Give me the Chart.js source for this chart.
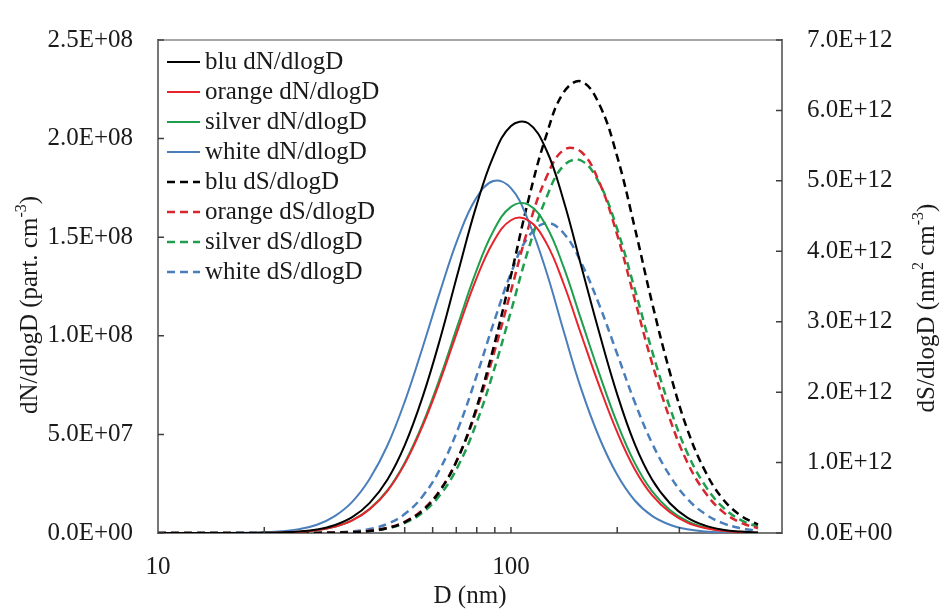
<!DOCTYPE html>
<html>
<head>
<meta charset="utf-8">
<script src="https://cdn.jsdelivr.net/npm/chart.js@4"></script>
<style>
  html, body { margin: 0; padding: 0; background: #fff; }
  #wrap { width: 941px; height: 609px; }
</style>
</head>
<body>
<div id="wrap"><canvas id="psd"></canvas></div>
<script>
// particle diameter, nm (log-spaced)
const diameter = [10, 11.2, 12.6, 14.1, 15.8, 17.8, 20.0, 22.4, 25.1, 28.2, 31.6, 35.5, 39.8, 44.7, 50.1, 56.2, 63.1, 70.8, 79.4, 89.1,
  100, 112, 126, 141, 158, 178, 200, 224, 251, 282, 316, 355, 398, 447, 501];

// dN/dlogD, units of 1E+08 part. cm-3
const dnBlu = [0, 0, 0, 0, 0.0001, 0.0004, 0.0011, 0.003, 0.0076, 0.0179, 0.0393, 0.0803, 0.153, 0.271, 0.448, 0.690, 0.989, 1.322, 1.646, 1.909,
  2.064, 2.078, 1.942, 1.685, 1.357, 1.014, 0.703, 0.453, 0.271, 0.151, 0.078, 0.0375, 0.0168, 0.007, 0.0028];
const dnOrange = [0, 0, 0, 0, 0.0001, 0.0003, 0.0009, 0.0024, 0.006, 0.0142, 0.0311, 0.0635, 0.121, 0.214, 0.353, 0.543, 0.776, 1.033, 1.280, 1.476,
  1.586, 1.585, 1.470, 1.264, 1.008, 0.745, 0.511, 0.325, 0.192, 0.105, 0.053, 0.025, 0.0109, 0.0044, 0.0016];
const dnSilver = [0, 0, 0, 0, 0.0001, 0.0003, 0.0009, 0.0024, 0.0061, 0.0144, 0.0315, 0.0644, 0.1225, 0.217, 0.359, 0.553, 0.793, 1.059, 1.319, 1.530,
  1.654, 1.665, 1.556, 1.348, 1.083, 0.807, 0.557, 0.357, 0.212, 0.117, 0.060, 0.028, 0.0124, 0.0051, 0.0019];
const dnWhite = [0, 0, 0, 0.0001, 0.0004, 0.0013, 0.0034, 0.0084, 0.0196, 0.0421, 0.0846, 0.158, 0.275, 0.445, 0.670, 0.941, 1.229, 1.495, 1.693, 1.785,
  1.749, 1.583, 1.325, 1.024, 0.732, 0.483, 0.295, 0.166, 0.087, 0.042, 0.0186, 0.0076, 0.0029, 0.001, 0.0003];

// dS/dlogD, units of 1E+12 nm2 cm-3
const dsBlu = [0, 0, 0, 0, 0, 0, 0, 0.0001, 0.0004, 0.0013, 0.004, 0.0113, 0.0293, 0.070, 0.156, 0.319, 0.607, 1.066, 1.738, 2.620,
  3.656, 4.724, 5.650, 6.256, 6.412, 6.084, 5.345, 4.346, 3.272, 2.280, 1.471, 0.878, 0.485, 0.249, 0.118];
const dsOrange = [0, 0, 0, 0, 0, 0, 0, 0.0001, 0.0004, 0.0015, 0.0044, 0.0122, 0.0313, 0.0744, 0.163, 0.330, 0.617, 1.067, 1.705, 2.518,
  3.436, 4.333, 5.050, 5.438, 5.413, 4.979, 4.232, 3.324, 2.413, 1.619, 1.003, 0.575, 0.304, 0.149, 0.067];
const dsSilver = [0, 0, 0, 0, 0, 0, 0, 0.0001, 0.0004, 0.0013, 0.0039, 0.0107, 0.0275, 0.0652, 0.143, 0.290, 0.545, 0.949, 1.529, 2.281,
  3.149, 4.025, 4.762, 5.216, 5.289, 4.965, 4.314, 3.471, 2.585, 1.782, 1.137, 0.672, 0.367, 0.186, 0.087];
const dsWhite = [0, 0, 0, 0, 0, 0, 0, 0.0003, 0.0009, 0.0029, 0.0085, 0.023, 0.057, 0.130, 0.272, 0.522, 0.918, 1.479, 2.187, 2.966,
  3.688, 4.206, 4.400, 4.256, 3.842, 3.235, 2.542, 1.864, 1.276, 0.814, 0.485, 0.270, 0.140, 0.068, 0.031];

const xTickLabels = [10, 100];
const xMinorTicks = [20, 50, 60, 70, 80, 90, 100, 200, 300];

const FONT = '"Liberation Serif", "Times New Roman", serif';
const TEXT = '#1a1a1a';
const AXIS = '#3f3f3f';

const series = [
  { label: 'blu dN/dlogD', values: dnBlu, scale: 1e8, axis: 'yN', color: '#000000', dash: [] },
  { label: 'orange dN/dlogD', values: dnOrange, scale: 1e8, axis: 'yN', color: '#e8232b', dash: [] },
  { label: 'silver dN/dlogD', values: dnSilver, scale: 1e8, axis: 'yN', color: '#1f9f4e', dash: [] },
  { label: 'white dN/dlogD', values: dnWhite, scale: 1e8, axis: 'yN', color: '#4a7ebb', dash: [] },
  { label: 'blu dS/dlogD', values: dsBlu, scale: 1e12, axis: 'yS', color: '#000000', dash: [8, 5] },
  { label: 'orange dS/dlogD', values: dsOrange, scale: 1e12, axis: 'yS', color: '#d8262f', dash: [8, 5] },
  { label: 'silver dS/dlogD', values: dsSilver, scale: 1e12, axis: 'yS', color: '#1f9f4e', dash: [8, 5] },
  { label: 'white dS/dlogD', values: dsWhite, scale: 1e12, axis: 'yS', color: '#4a7ebb', dash: [8, 5] },
];

const fmtE = v => {
  const [m, e] = v.toExponential(1).split('e');
  return m + 'E' + (e[0] === '-' ? '-' : '+') + String(Math.abs(+e)).padStart(2, '0');
};

// draws text with superscript pieces, centred on (x, y), rotated
function richText(ctx, parts, x, y, rot) {
  const big = `25px ${FONT}`, small = `16px ${FONT}`;
  let total = 0;
  parts.forEach(p => { ctx.font = p.sup ? small : big; total += ctx.measureText(p.t).width; });
  ctx.save();
  ctx.translate(x, y);
  ctx.rotate(rot);
  ctx.fillStyle = TEXT;
  ctx.textBaseline = 'middle';
  ctx.textAlign = 'left';
  let cx = -total / 2;
  parts.forEach(p => {
    ctx.font = p.sup ? small : big;
    ctx.fillText(p.t, cx, p.sup ? -8 : 0);
    cx += ctx.measureText(p.t).width;
  });
  ctx.restore();
}

const decorations = {
  id: 'decorations',
  beforeDatasetsDraw(chart) {
    const { ctx, chartArea: a } = chart;
    ctx.save();
    ctx.strokeStyle = '#8a8a8a';
    ctx.lineWidth = 1.5;
    ctx.strokeRect(a.left, a.top, a.right - a.left, a.bottom - a.top);
    ctx.restore();
  },
  afterDraw(chart) {
    const { ctx, chartArea: a, scales } = chart;
    ctx.save();
    ctx.strokeStyle = AXIS;
    ctx.lineWidth = 1.5;
    ctx.beginPath();
    scales.yN.ticks.forEach(t => {
      const y = scales.yN.getPixelForValue(t.value);
      ctx.moveTo(a.left, y); ctx.lineTo(a.left + 6, y);
    });
    scales.yS.ticks.forEach(t => {
      const y = scales.yS.getPixelForValue(t.value);
      ctx.moveTo(a.right - 6, y); ctx.lineTo(a.right, y);
    });
    xMinorTicks.forEach(v => {
      const x = scales.x.getPixelForValue(v);
      ctx.moveTo(x, a.bottom); ctx.lineTo(x, a.bottom - 6);
    });
    ctx.stroke();

    // legend inside the plot area
    ctx.font = `25px ${FONT}`;
    ctx.textBaseline = 'middle';
    ctx.fillStyle = TEXT;
    chart.data.datasets.forEach((ds, i) => {
      const y = a.top + 22 + i * 30;
      ctx.strokeStyle = ds.borderColor;
      ctx.lineWidth = ds.borderWidth;
      ctx.setLineDash(ds.borderDash);
      ctx.beginPath();
      ctx.moveTo(a.left + 9, y); ctx.lineTo(a.left + 42, y);
      ctx.stroke();
      ctx.setLineDash([]);
      ctx.fillText(ds.label, a.left + 47, y);
    });
    ctx.restore();

    richText(ctx, [{ t: 'dN/dlogD (part. cm' }, { t: '-3', sup: true }, { t: ')' }], 30, 305, -Math.PI / 2);
    richText(ctx, [{ t: 'dS/dlogD (nm' }, { t: '2', sup: true }, { t: ' cm' }, { t: '-3', sup: true }, { t: ')' }], 927, 308, -Math.PI / 2);
  },
};

new Chart(document.getElementById('psd'), {
  type: 'line',
  data: {
    datasets: series.map(s => ({
      label: s.label,
      data: diameter.map((d, i) => ({ x: d, y: s.values[i] * s.scale })),
      yAxisID: s.axis,
      borderColor: s.color,
      borderWidth: s.dash.length ? 2.5 : 2,
      borderDash: s.dash,
      pointRadius: 0,
      fill: false,
      tension: 0.4,
    })),
  },
  options: {
    responsive: true,
    maintainAspectRatio: false,
    animation: false,
    layout: { padding: { top: 30, left: 0, right: 0, bottom: 0 } },
    plugins: { legend: { display: false }, tooltip: { enabled: false } },
    scales: {
      x: {
        type: 'logarithmic',
        min: 10,
        max: 586,
        afterBuildTicks: s => { s.ticks = xTickLabels.map(v => ({ value: v })); },
        afterFit: s => { s.height = 76; },
        grid: { display: false, drawTicks: false },
        border: { display: true, color: AXIS, width: 2 },
        ticks: { color: TEXT, font: { family: FONT, size: 25 }, padding: 19, maxRotation: 0, autoSkip: false, callback: v => String(v) },
        title: { display: true, text: 'D (nm)', color: TEXT, font: { family: FONT, size: 25, lineHeight: 1 }, padding: 0 },
      },
      yN: {
        type: 'linear',
        position: 'left',
        min: 0,
        max: 2.5e8,
        afterFit: s => { s.width = 158; },
        grid: { display: false, drawTicks: false },
        border: { display: true, color: AXIS, width: 2 },
        ticks: { stepSize: 0.5e8, color: TEXT, font: { family: FONT, size: 25 }, padding: 25, callback: v => fmtE(v) },
      },
      yS: {
        type: 'linear',
        position: 'right',
        min: 0,
        max: 7e12,
        afterFit: s => { s.width = 159; },
        grid: { display: false, drawTicks: false },
        border: { display: true, color: AXIS, width: 2 },
        ticks: { stepSize: 1e12, color: TEXT, font: { family: FONT, size: 25 }, padding: 25, callback: v => fmtE(v) },
      },
    },
  },
  plugins: [decorations],
});
</script>
</body>
</html>
